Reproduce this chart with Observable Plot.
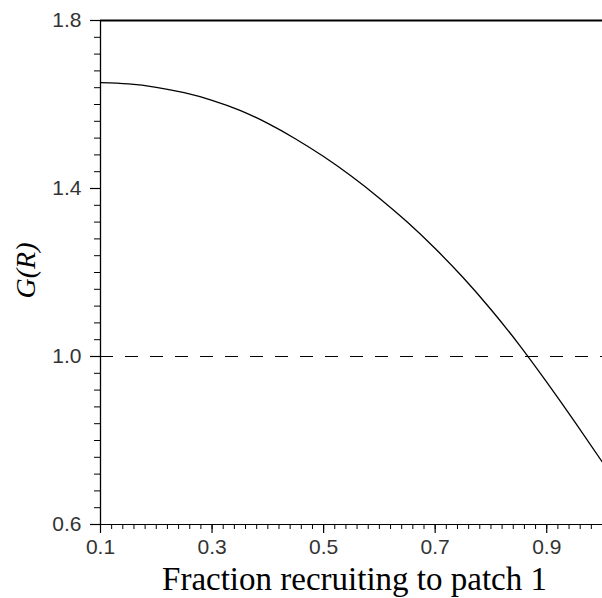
<!DOCTYPE html>
<html>
<head>
<meta charset="utf-8">
<script src="https://cdn.jsdelivr.net/npm/d3@7"></script>
<script src="https://cdn.jsdelivr.net/npm/@observablehq/plot@0.6"></script>
<style>
  html, body { margin: 0; padding: 0; background: #fff; }
</style>
</head>
<body>
<div id="chart"></div>
<script>
// Curve G(R)
const fraction = [0.10, 0.15, 0.20, 0.25, 0.30, 0.35, 0.40, 0.45, 0.50, 0.55, 0.60, 0.65, 0.70, 0.75, 0.80, 0.85, 0.90, 0.95, 1.00];
const gValues  = [1.652, 1.649, 1.641, 1.628, 1.610, 1.586, 1.555, 1.518, 1.476, 1.429, 1.377, 1.320, 1.257, 1.188, 1.112, 1.029, 0.939, 0.845, 0.748];

// reference lines
const upperLevel = 1.8;
const thresholdLevel = 1.0;

// tick labels
const xMajor = [0.1, 0.3, 0.5, 0.7, 0.9];
const yMajor = [0.6, 1.0, 1.4, 1.8];
const xMinor = d3.range(0, 46).map(i => +(0.1 + i * 0.02).toFixed(2));
const yMinor = d3.range(0, 31).map(i => +(0.6 + i * 0.04).toFixed(2));

const xLabel = "Fraction recruiting to patch 1";
const yLabel = "G(R)";

const curve = fraction.map((x, i) => ({x, y: gValues[i]}));

const serif = "'Liberation Serif', 'Times New Roman', serif";

const chart = Plot.plot({
  width: 602,
  height: 598,
  marginLeft: 100,
  marginRight: 0,
  marginTop: 20,
  marginBottom: 74,
  x: {domain: [0.1, 1.0]},
  y: {domain: [0.6, 1.8]},
  style: {fontFamily: "'Liberation Sans', Arial, sans-serif", background: "#fff", color: "#000"},
  marks: [
    Plot.axisX(xMinor, {tickSize: 5, tickFormat: () => "", label: null, strokeWidth: 1}),
    Plot.axisX(xMajor, {tickSize: 9, tickPadding: 6, tickFormat: d => d.toFixed(1), label: null, fontSize: 21, fill: "#333", strokeWidth: 1.2}),
    Plot.axisY(yMinor, {tickSize: 6, tickFormat: () => "", label: null, strokeWidth: 1}),
    Plot.axisY(yMajor, {tickSize: 10, tickPadding: 9, tickFormat: d => d.toFixed(1), label: null, fontSize: 21, fill: "#333", strokeWidth: 1.2}),
    Plot.ruleY([0.6], {stroke: "#000", strokeWidth: 1.2}),
    Plot.ruleX([0.1], {y1: 0.6, y2: 1.8, stroke: "#000", strokeWidth: 1.3}),
    Plot.ruleY([upperLevel], {stroke: "#000", strokeWidth: 1.8}),
    Plot.ruleY([thresholdLevel], {stroke: "#000", strokeWidth: 1.2, strokeDasharray: "13,12"}),
    Plot.line(curve, {x: "x", y: "y", curve: "natural", stroke: "#000", strokeWidth: 1.3}),
    Plot.text([yLabel], {frameAnchor: "left", textAnchor: "middle", dx: -74, dy: -2, rotate: -90, fontFamily: serif, fontStyle: "italic", fontSize: 28, fill: "#000"}),
    Plot.text([xLabel], {frameAnchor: "bottom", textAnchor: "middle", dx: 3, dy: 65, lineAnchor: "bottom", fontFamily: serif, fontSize: 33, fill: "#000"})
  ]
});

document.getElementById("chart").appendChild(chart);
</script>
</body>
</html>
